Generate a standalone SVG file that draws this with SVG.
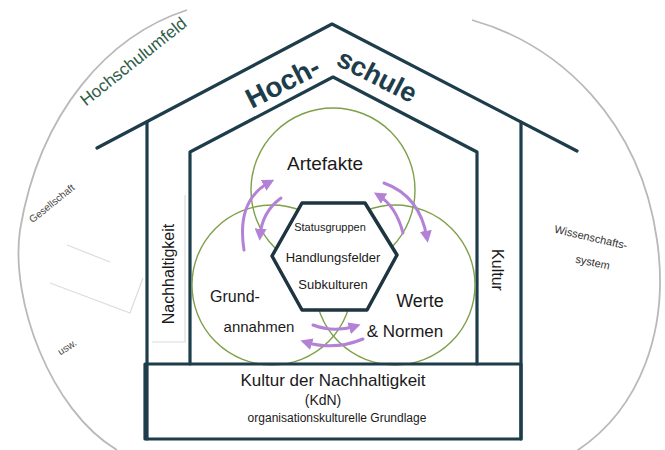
<svg xmlns="http://www.w3.org/2000/svg" width="665" height="450" viewBox="0 0 665 450">
  <defs>
    <style>
      .frame{fill:none;stroke:#1e3d4b;stroke-width:3.2;stroke-linecap:round;stroke-linejoin:round}
      .circ{fill:none;stroke:#7ea04a;stroke-width:1.4}
      .faint{fill:none;stroke:#dcdcdc;stroke-width:1.2}
      .outer{fill:none;stroke:#b9b9b9;stroke-width:1.8}
      .arr{fill:none;stroke:#b382d6;stroke-width:3;stroke-linecap:round}
      .t{font-family:"Liberation Sans","DejaVu Sans",sans-serif;fill:#1a1a1a}
      .title{font-family:"Liberation Sans","DejaVu Sans",sans-serif;fill:#1e3d4b;font-weight:bold}
    </style>
    <marker id="ah" viewBox="0 0 10 10" refX="6" refY="5" markerWidth="4" markerHeight="4" orient="auto" markerUnits="strokeWidth">
      <path d="M0,0 L10,5 L0,10 Z" fill="#b382d6"/>
    </marker>
  </defs>
  <rect width="665" height="450" fill="#ffffff"/>

  <g id="umfeld">
    <path class="outer" d="M187,10 C110,35 40,110 20,230 C10,300 50,410 117,450"/>
    <path class="outer" d="M472,20 C560,45 640,120 657,240 C670,330 640,410 575,452"/>
    <path class="faint" d="M67,245 L110,262"/>
    <path class="faint" d="M50,283 L130,313 L143,278"/>
    <text class="t" transform="translate(137,66) rotate(-38.5)" font-size="17" text-anchor="middle" style="fill:#2f5d48">Hochschulumfeld</text>
    <text class="t" transform="translate(54,206) rotate(-39)" font-size="10" text-anchor="middle" style="fill:#444">Gesellschaft</text>
    <text class="t" transform="translate(69,350) rotate(-33)" font-size="10" text-anchor="middle" style="fill:#444">usw.</text>
    <text class="t" transform="translate(590,241) rotate(13)" font-size="11" text-anchor="middle" style="fill:#333">Wissenschafts-</text>
    <text class="t" transform="translate(592,266) rotate(12)" font-size="11" text-anchor="middle" style="fill:#333">system</text>
  </g>

  <g id="hochschule">
    <polyline class="frame" points="97,148 332,24 577,151"/>
    <line class="frame" x1="147" y1="122" x2="147" y2="439"/>
    <line class="frame" x1="521" y1="122" x2="521" y2="439"/>
    <text class="title" transform="translate(287,91) rotate(-27)" font-size="28" text-anchor="middle">Hoch-</text>
    <text class="title" transform="translate(373,84) rotate(27)" font-size="27" text-anchor="middle">schule</text>
  </g>

  <g id="nachhaltigkeit">
    <path class="faint" d="M185,195 L185,342 L152,342"/>
    <text class="t" transform="translate(174,274) rotate(-90)" font-size="16" text-anchor="middle">Nachhaltigkeit</text>
  </g>

  <g id="kultur">
    <text class="t" transform="translate(492,270) rotate(90)" font-size="16" text-anchor="middle">Kultur</text>
  </g>

  <g id="innenhaus">
    <polyline class="frame" points="190,364 190,152 333,77 477,152 477,364"/>
  </g>

  <g id="artefakte">
    <circle class="circ" cx="333" cy="190" r="82"/>
    <text class="t" x="325" y="170" font-size="19" text-anchor="middle">Artefakte</text>
  </g>
  <g id="grundannahmen">
    <circle class="circ" cx="272" cy="285" r="80"/>
    <text class="t" x="235" y="302" font-size="16" text-anchor="middle">Grund-</text>
    <text class="t" x="259" y="332" font-size="15" text-anchor="middle">annahmen</text>
  </g>
  <g id="werte">
    <circle class="circ" cx="395" cy="285" r="80"/>
    <text class="t" x="420" y="307" font-size="18" text-anchor="middle">Werte</text>
    <text class="t" x="405" y="337" font-size="17" text-anchor="middle">&amp; Normen</text>
  </g>

  <g id="kern">
    <polygon points="302,203 365,203 397,255 367,310 302,310 272,256" fill="#ffffff" stroke="#1e3440" stroke-width="3.5" stroke-linejoin="round"/>
    <text class="t" x="330" y="231" font-size="11" text-anchor="middle">Statusgruppen</text>
    <text class="t" x="333" y="262" font-size="13" text-anchor="middle">Handlungsfelder</text>
    <text class="t" x="333" y="289" font-size="13" text-anchor="middle">Subkulturen</text>
  </g>

  <g id="connectors">
    <path class="arr" d="M244,250 Q236,200 270,182" marker-end="url(#ah)"/>
    <path class="arr" d="M281,198 Q262,212 260,236" marker-end="url(#ah)"/>
    <path class="arr" d="M403,233 Q396,206 378,195" marker-end="url(#ah)"/>
    <path class="arr" d="M384,183 Q420,196 427,238" marker-end="url(#ah)"/>
    <path class="arr" d="M313,325 Q334,333 356,326" marker-end="url(#ah)"/>
    <path class="arr" d="M363,339 Q334,351 305,342" marker-end="url(#ah)"/>
  </g>

  <g id="kdn">
    <rect class="frame" x="145" y="364" width="376" height="75" fill="#ffffff"/>
    <text class="t" x="333" y="386" font-size="17" text-anchor="middle">Kultur der Nachhaltigkeit</text>
    <text class="t" x="323" y="405" font-size="14" text-anchor="middle">(KdN)</text>
    <text class="t" x="337" y="422" font-size="12" text-anchor="middle">organisationskulturelle Grundlage</text>
  </g>
</svg>
